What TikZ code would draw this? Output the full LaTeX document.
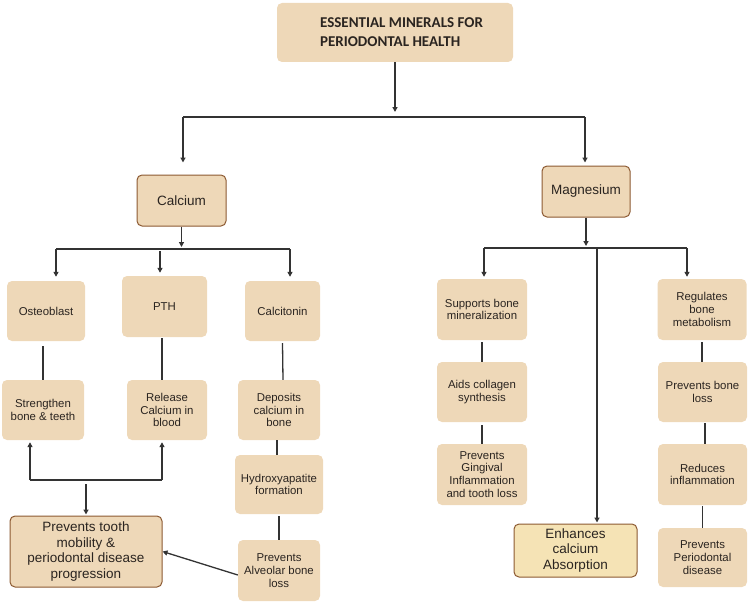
\documentclass[tikz,border=0pt]{standalone}
\usepackage{fontspec}
\setmainfont{Liberation Sans}
\newfontfamily\titlefont{Carlito}
\usetikzlibrary{arrows.meta,calc}
\definecolor{beige}{HTML}{EED8B8}
\definecolor{edgebrown}{HTML}{8C5A32}
\definecolor{pale}{HTML}{F5E3B5}
\definecolor{ink}{HTML}{333333}
\definecolor{txt}{HTML}{2A2420}
\begin{document}
\begin{tikzpicture}[x=1pt,y=-1pt,
  box/.style={fill=beige, rounded corners=5pt, align=center, inner sep=1pt,
    font=\fontsize{11.4}{12.8}\selectfont, text=txt},
  bbox/.style={box, draw=edgebrown, line width=1pt},
  sz/.style 2 args={minimum width=#1pt, minimum height=#2pt},
  ln/.style={draw=ink, line width=1.3pt},
  arr/.style={ln, -{Triangle[length=5pt,width=5pt]}}]
\useasboundingbox (0,0) rectangle (750,602);

% nodes
\node[box, sz={236}{59}, font=\titlefont\bfseries\fontsize{15}{19}\selectfont, align=left] (title) at (395,32.5) {\hspace*{13pt}ESSENTIAL MINERALS FOR\\\hspace*{13pt}PERIODONTAL HEALTH};
\node[bbox, sz={89}{51}, font=\fontsize{13.5}{15}\selectfont] (ca) at (181.5,200.5) {Calcium};
\node[bbox, sz={88}{51}, font=\fontsize{13.5}{15}\selectfont] (mg) at (586,191.5) {Magnesium};

\node[box, sz={78}{60}] (os) at (46,311) {Osteoblast};
\node[box, sz={85}{61}] (pth) at (164.5,306.5) {PTH};
\node[box, sz={75}{60}] (ct) at (282.5,311) {Calcitonin};
\node[box, sz={82}{60}] (st) at (43,410) {Strengthen\\bone \& teeth};
\node[box, sz={80}{60}] (rel) at (167,410) {Release\\Calcium in\\blood};
\node[box, sz={82}{60}] (dep) at (279,410) {Deposits\\calcium in\\bone};
\node[box, sz={88}{59}] (hyd) at (279,484.5) {Hydroxyapatite\\formation};
\node[box, sz={82}{61}] (alv) at (279,570.5) {Prevents\\Alveolar bone\\loss};
\node[bbox, sz={152}{71}, font=\fontsize{13.5}{15.5}\selectfont] (tooth) at (86,551.5) {Prevents tooth\\mobility \&\\periodontal disease\\progression};

\node[box, sz={90}{61}] (sup) at (482,309.5) {Supports bone\\mineralization};
\node[box, sz={90}{60}] (aids) at (482,392) {Aids collagen\\synthesis};
\node[box, sz={90}{61}] (ging) at (482,474.5) {Prevents\\Gingival\\Inflammation\\and tooth loss};
\node[box, sz={89}{61}] (reg) at (702,309.5) {Regulates\\bone\\metabolism};
\node[box, sz={89}{60}] (pb) at (702.5,392) {Prevents bone\\loss};
\node[box, sz={89}{61}] (red) at (702.5,474.5) {Reduces\\inflammation};
\node[box, sz={89}{59}] (per) at (702.5,557.5) {Prevents\\Periodontal\\disease};
\node[bbox, fill=pale, sz={123}{53}, font=\fontsize{13.5}{15.3}\selectfont] (enh) at (575.5,550.5) {Enhances\\calcium\\Absorption};

% top split
\coordinate (hL) at (183,117);
\coordinate (hR) at (585,117);
\draw[arr] (title.south) -- (title.south |- 0,112);
\draw[ln] (hL) -- (hR);
\draw[arr, shorten >=12pt] (hL) -- (hL |- ca.north);
\draw[arr, shorten >=3pt] (hR) -- (hR |- mg.north);

% calcium split
\coordinate (c1) at (56,249);
\coordinate (c2) at (160,251);
\coordinate (c3) at (290,249);
\draw[arr] (ca.south) -- (ca.south |- 0,247);
\draw[ln] (c1) -- (c3);
\draw[arr, shorten >=4pt] (c1) -- (c1 |- os.north);
\draw[arr, shorten >=3pt] (c2) -- (c2 |- pth.north);
\draw[arr, shorten >=4pt] (c3) -- (c3 |- ct.north);

% magnesium split
\coordinate (m1) at (484,248);
\coordinate (m2) at (597,248);
\coordinate (m3) at (687,248);
\draw[arr] (mg.south) -- (mg.south |- 0,246);
\draw[ln] (m1) -- (m3);
\draw[arr, shorten >=2pt] (m1) -- (m1 |- sup.north);
\draw[arr, shorten >=2pt] (m3) -- (m3 |- reg.north);
\draw[arr, shorten >=1pt] (m2) -- (m2 |- enh.north);

% calcium chains
\draw[ln] ([xshift=-3pt,yshift=-5pt]os.south) -- (st.north);
\draw[ln] ([xshift=-2.5pt,yshift=-1pt]pth.south) -- ([xshift=-5pt]rel.north);
\draw[ln] ([yshift=-2pt]ct.south) -- ([xshift=4pt]dep.north);
\draw[ln] ([xshift=-2pt]dep.south) -- ([xshift=-2pt]hyd.north);
\draw[ln] ([yshift=-2pt]hyd.south) -- (alv.north);

% bottom left
\coordinate (b1) at (30,480);
\coordinate (b2) at (162,480);
\coordinate (b3) at (86,484);
\draw[ln] (b1) -- (b2);
\draw[arr, shorten >=2pt] (b1) -- (b1 |- st.south);
\draw[arr, shorten >=2pt] (b2) -- (b2 |- rel.south);
\draw[arr, shorten >=1pt] (b3) -- (b3 |- tooth.north);
\draw[arr] ([yshift=-4.5pt]alv.west) -- (tooth.east);

% magnesium chains
\draw[ln] ([yshift=-2pt]sup.south) -- (aids.north);
\draw[ln] ([yshift=-3pt]aids.south) -- (ging.north);
\draw[ln] ([yshift=-2pt]reg.south) -- ([xshift=-0.5pt]pb.north);
\draw[ln] ([xshift=2.5pt,yshift=-1pt]pb.south) -- ([xshift=2.5pt]red.north);
\draw[ln] ([yshift=-1pt]red.south) -- (per.north);
\end{tikzpicture}
\end{document}
